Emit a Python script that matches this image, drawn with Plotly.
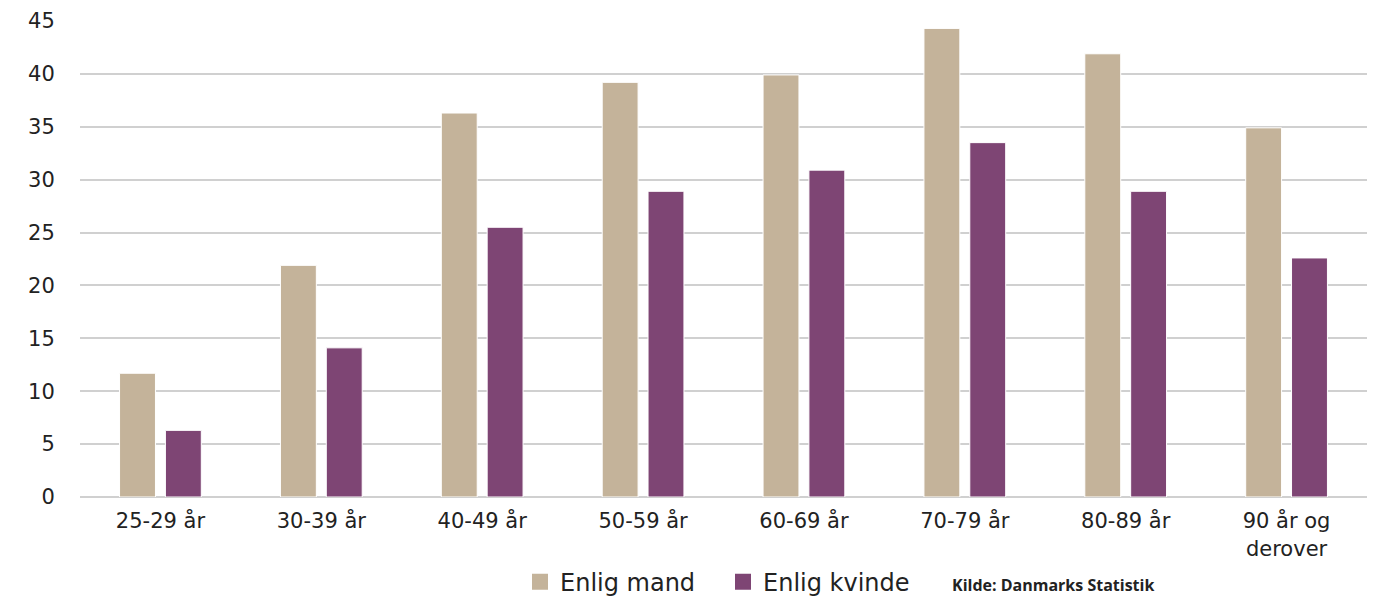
import plotly.graph_objects as go

categories = ["25-29 år", "30-39 år", "40-49 år", "50-59 år", "60-69 år",
              "70-79 år", "80-89 år", "90 år og<br>derover"]
enlig_mand = [11.7, 21.9, 36.3, 39.2, 39.9, 44.3, 41.9, 34.9]
enlig_kvinde = [6.3, 14.1, 25.5, 28.9, 30.9, 33.5, 28.9, 22.6]
series_names = ["Enlig mand", "Enlig kvinde"]
series_colors = ["#C4B39A", "#7E4574"]
y_ticks = [0, 5, 10, 15, 20, 25, 30, 35, 40, 45]
source_text = "Kilde: Danmarks Statistik"

FONT = "DejaVu Sans"

fig = go.Figure()
for name, vals, col in zip(series_names, [enlig_mand, enlig_kvinde], series_colors):
    fig.add_trace(go.Bar(
        x=categories, y=vals, name=name, showlegend=False, legendgroup=name,
        marker=dict(color=col, line=dict(color="#ffffff", width=1)),
    ))
# legend entries with larger square swatches
for name, col in zip(series_names, series_colors):
    fig.add_trace(go.Scatter(
        x=[None], y=[None], mode="markers", name=name, legendgroup=name,
        marker=dict(symbol="square", size=20, color=col), hoverinfo="skip",
    ))

fig.update_layout(
    width=1385, height=598,
    margin=dict(l=80, r=18, t=21, b=101, autoexpand=False),
    paper_bgcolor="white", plot_bgcolor="white",
    barmode="group", bargap=0.43, bargroupgap=0.217,
    font=dict(family=FONT, size=21, color="#222222"),
    showlegend=True,
    legend=dict(orientation="h", x=(520 - 80) / 1287, xanchor="left", y=-0.179, yanchor="middle",
                font=dict(size=24, color="#222222"), itemwidth=30,
                entrywidth=158, traceorder="normal"),
    annotations=[dict(
        text="<b>" + source_text + "</b>", xref="paper", yref="paper",
        x=(950 - 80) / 1287, y=-0.185, xanchor="left", yanchor="middle",
        showarrow=False, font=dict(family="Open Sans", size=16, color="#222222"),
    )],
)
fig.update_xaxes(
    showgrid=False, showline=False, zeroline=False,
    tickfont=dict(size=21, color="#222222"),
    ticks="outside", ticklen=5, tickcolor="rgba(0,0,0,0)",
)
fig.update_yaxes(
    range=[0, 45], tickvals=y_ticks, showgrid=True, gridcolor="#d0d0d0", gridwidth=2,
    zeroline=True, zerolinecolor="#d0d0d0", zerolinewidth=2, showline=False,
    tickfont=dict(size=21, color="#222222"),
    ticks="outside", ticklen=20, tickcolor="rgba(0,0,0,0)",
)

fig.write_html("out.html")
